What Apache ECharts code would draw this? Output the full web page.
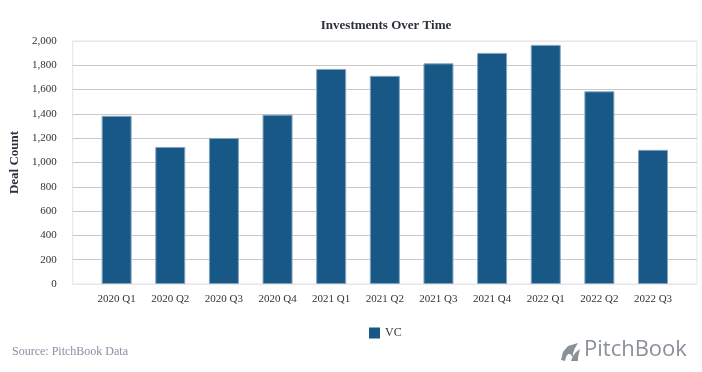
<!DOCTYPE html>
<html>
<head>
<meta charset="utf-8">
<script src="https://cdn.jsdelivr.net/npm/echarts@6/dist/echarts.min.js"></script>
<style>
html,body{margin:0;padding:0;background:#fff;}
#chart{width:702px;height:372px;}
</style>
</head>
<body>
<div id="chart"></div>
<script>
const categories = ['2020 Q1','2020 Q2','2020 Q3','2020 Q4','2021 Q1','2021 Q2','2021 Q3','2021 Q4','2022 Q1','2022 Q2','2022 Q3'];
const vcDealCount = [1384, 1128, 1202, 1394, 1770, 1713, 1816, 1902, 1968, 1586, 1104];
const yTicks = [0, 200, 400, 600, 800, 1000, 1200, 1400, 1600, 1800, 2000];

const serif = '"Liberation Serif", "Times New Roman", serif';
const chart = echarts.init(document.getElementById('chart'), null, {renderer: 'canvas'});

const splitColors = yTicks.map((v, i) => (i === 0 || i === yTicks.length - 1) ? '#e6e6ec' : '#c9c9cc');

chart.setOption({
  animation: false,
  backgroundColor: '#ffffff',
  title: {
    text: 'Investments Over Time',
    left: 381, top: 14, textAlign: 'center',
    textStyle: {fontFamily: serif, fontSize: 13, fontWeight: 'bold', color: '#2b303a'}
  },
  legend: {
    data: ['VC'],
    left: 364, top: 322,
    itemWidth: 11, itemHeight: 11, itemGap: 10,
    icon: 'rect',
    itemStyle: {borderWidth: 0},
    textStyle: {fontFamily: serif, fontSize: 12, color: '#333'}
  },
  grid: {
    left: 65, right: 5, top: 41, bottom: 88,
    show: true, borderColor: '#e4e4ea', borderWidth: 1
  },
  xAxis: {
    type: 'value',
    min: -0.82, max: 10.82,
    axisLine: {show: false},
    axisTick: {show: false},
    splitLine: {show: false},
    axisLabel: {
      customValues: categories.map((c, i) => i),
      formatter: v => categories[Math.round(v)],
      fontFamily: serif, fontSize: 11, color: '#333', margin: 10
    }
  },
  yAxis: {
    type: 'value',
    min: 0, max: 2000, interval: 200,
    name: 'Deal Count',
    nameLocation: 'middle',
    nameGap: 45,
    nameTextStyle: {fontFamily: serif, fontSize: 13, fontWeight: 'bold', color: '#2b303a'},
    axisLine: {show: false},
    axisTick: {show: false},
    axisLabel: {
      formatter: v => v.toLocaleString('en-US'),
      fontFamily: serif, fontSize: 11, color: '#333', margin: 16
    },
    splitLine: {show: true, lineStyle: {color: splitColors, width: 1}}
  },
  series: [{
    name: 'VC',
    type: 'bar',
    barWidth: 30,
    data: vcDealCount.map((v, i) => [i, v]),
    itemStyle: {color: '#185886', borderColor: '#86a4bf', borderWidth: 1}
  }],
  graphic: [
    {
      type: 'text', left: 12, top: 346,
      style: {text: 'Source: PitchBook Data', fontFamily: serif, fontSize: 12, fill: '#8790a0'}
    },
    {
      type: 'text', left: 584, top: 339,
      style: {text: 'PitchBook', fontFamily: '"Open Sans", "DejaVu Sans", sans-serif', fontSize: 22, fill: '#8b9099'}
    },
    {
      type: 'polygon',
      shape: {points: [[561,360],[563,352],[568,346],[578,343],[575,348],[573,353],[573,357],[570,354],[568,354],[566,357],[565,361]]},
      style: {fill: '#8b9099'}
    },
    {
      type: 'polygon',
      shape: {points: [[571,361],[573,356],[576,352],[580,349],[579,353],[578,357],[578,361]]},
      style: {fill: '#8b9099'}
    }
  ]
});
</script>
</body>
</html>
